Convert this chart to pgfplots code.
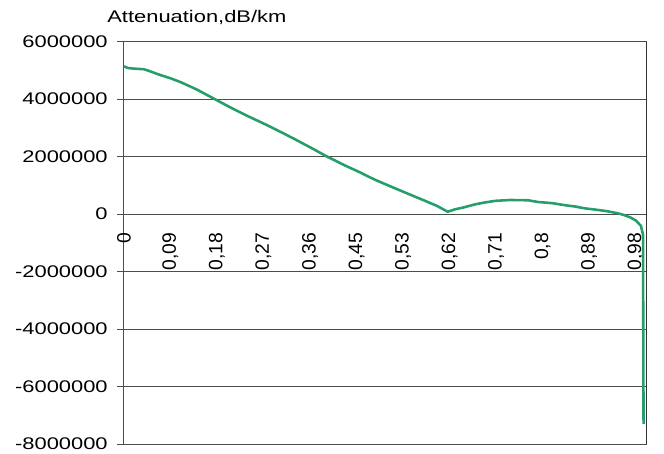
\documentclass[border=0pt]{standalone}
\usepackage{pgfplots}
\pgfplotsset{compat=1.18}
\usepackage{fontspec}
\setmainfont{Liberation Sans}
\definecolor{curve}{RGB}{38,158,108}
\begin{document}
\begin{tikzpicture}
\begin{axis}[
  scale only axis,
  width=527pt, height=406pt,
  at={(0,0)}, anchor=south west,
  xmin=0, xmax=1, ymin=-8000000, ymax=6000000,
  axis line style={draw=black!70, line width=0.8pt},
  xtick={0,0.0891,0.1782,0.2673,0.3564,0.4455,0.5345,0.6236,0.7127,0.8018,0.8909,0.98},
  xticklabels={0,{0,09},{0,18},{0,27},{0,36},{0,45},{0,53},{0,62},{0,71},{0,8},{0,89},{0,98}},
  xtick style={draw=none},
  xtick pos=bottom,
  xticklabel style={rotate=90, anchor=east, font=\fontsize{19.5}{19.5}\selectfont, inner sep=2pt, xshift=222pt},
  ytick={-8000000,-6000000,-4000000,-2000000,0,2000000,4000000,6000000},
  ytick pos=left,
  tick align=outside,
  major tick length=7pt,
  ytick style={draw=black!70, line width=0.8pt},
  scaled y ticks=false,
  yticklabel style={font=\fontsize{17}{17}\selectfont, xscale=1.3, anchor=east, inner sep=1pt, xshift=-6pt,
    /pgf/number format/fixed, /pgf/number format/precision=0, /pgf/number format/1000 sep={}},
  /pgf/number format/assume math mode=true,
  ymajorgrids,
  major grid style={draw=black!70, line width=0.8pt},
  title={Attenuation,dB/km},
  title style={at={(0,1)}, anchor=south west, font=\fontsize{17}{17}\selectfont, xscale=1.3, xshift=-15pt, yshift=9pt, inner sep=2pt},
  clip=false,
]
\addplot[curve, line width=2.6pt, line join=round] coordinates {
(0,5140000) (0.008,5080000) (0.02,5060000) (0.038,5040000) (0.05,4970000)
(0.066,4860000) (0.09,4720000) (0.11,4580000) (0.14,4330000) (0.174,4000000)
(0.205,3700000) (0.237,3410000) (0.27,3130000) (0.30,2860000) (0.33,2580000)
(0.364,2250000) (0.389,2000000) (0.42,1720000) (0.451,1460000) (0.48,1200000)
(0.516,920000) (0.545,700000) (0.578,450000) (0.60,280000) (0.620,80000)
(0.635,170000) (0.648,220000) (0.673,340000) (0.69,400000) (0.711,460000)
(0.74,490000) (0.774,480000) (0.793,420000) (0.82,380000) (0.844,310000)
(0.865,260000) (0.882,200000) (0.905,150000) (0.925,100000) (0.945,30000)
(0.957,-30000) (0.97,-120000) (0.98,-220000) (0.99,-410000) (0.994,-720000)
(0.995,-7300000)
};
\draw[black!80, line width=1.2pt] (rel axis cs:1,0) -- (rel axis cs:1,1);
\end{axis}
\path (-125pt,-10pt) rectangle (545pt,448pt);
\end{tikzpicture}
\end{document}
